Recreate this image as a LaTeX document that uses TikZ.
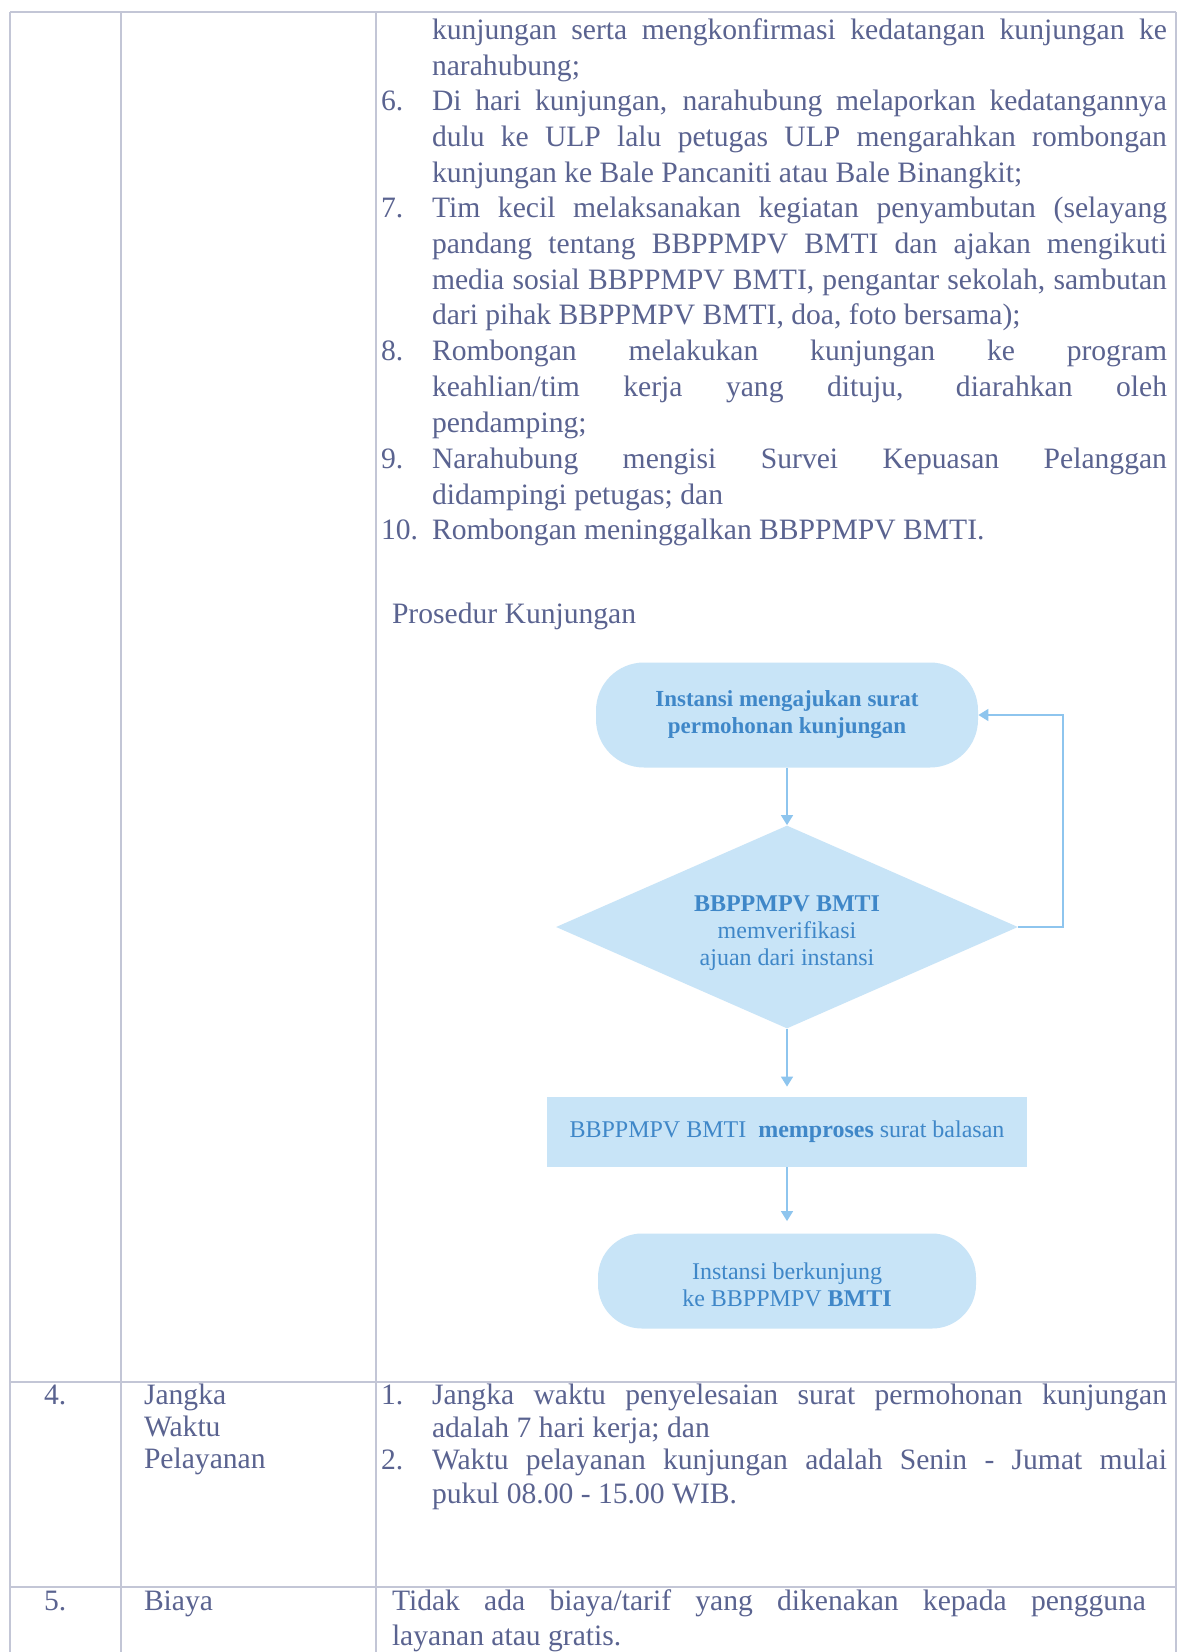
\documentclass[tikz,border=0pt]{standalone}
\usepackage{fontspec}
\setmainfont{Liberation Serif}
\usetikzlibrary{shapes.geometric,arrows.meta}
\definecolor{txt}{HTML}{5A6390}
\definecolor{rulec}{HTML}{C3C6D6}
\definecolor{fcfill}{HTML}{C8E4F7}
\definecolor{fctxt}{HTML}{3F87C8}
\definecolor{fcline}{HTML}{8EC5EE}
\newcommand{\jline}[1]{\makebox[367.5pt][s]{#1}}
\newcommand{\jlinewide}[1]{\makebox[377pt][s]{#1}}
\begin{document}
\begin{tikzpicture}[x=0.5pt,y=-0.5pt,
  body/.style={anchor=base west, inner sep=0pt, outer sep=0pt, text=txt,
    font=\fontsize{14.8pt}{17.8pt}\selectfont},
  tblline/.style={draw=rulec, line width=0.6pt},
  fcbase/.style={fill=fcfill, draw=none, text=fctxt, align=center, inner sep=0pt,
    font=\fontsize{12pt}{13.5pt}\selectfont},
  term/.style={fcbase, rectangle, rounded corners=24pt},
  decide/.style={fcbase, diamond, shape aspect=2.27},
  procbox/.style={fcbase, rectangle},
  flow/.style={draw=fcline, line width=0.8pt, -{Triangle[width=6pt,length=5pt]}}]
\useasboundingbox[fill=white] (0,0) rectangle (1187,1652);
% table grid
\draw[tblline] (10,12) -- (1176,12);
\draw[tblline] (10,1382) -- (1176,1382);
\draw[tblline] (10,1587) -- (1176,1587);
\draw[tblline] (10,12) -- (10,1652);
\draw[tblline] (121,12) -- (121,1652);
\draw[tblline] (376,12) -- (376,1652);
\draw[tblline] (1176,12) -- (1176,1652);
% row 3 text
\node[body] (l0) at (432,40) {\jline{kunjungan serta mengkonfirmasi kedatangan kunjungan ke}};
\node[body] (l1) at (432,76) {narahubung;};
\node[body] (n6) at (381,111) {6.};
\node[body] (l2) at (432,111) {\jline{Di hari kunjungan, narahubung melaporkan kedatangannya}};
\node[body] (l3) at (432,147) {\jline{dulu ke ULP lalu petugas ULP mengarahkan rombongan}};
\node[body] (l4) at (432,183) {kunjungan ke Bale Pancaniti atau Bale Binangkit;};
\node[body] (n7) at (381,218) {7.};
\node[body] (l5) at (432,218) {\jline{Tim kecil melaksanakan kegiatan penyambutan (selayang}};
\node[body] (l6) at (432,254) {\jline{pandang tentang BBPPMPV BMTI dan ajakan mengikuti}};
\node[body] (l7) at (432,290) {\jline{media sosial BBPPMPV BMTI, pengantar sekolah, sambutan}};
\node[body] (l8) at (432,325) {dari pihak BBPPMPV BMTI, doa, foto bersama);};
\node[body] (n8) at (381,361) {8.};
\node[body] (l9) at (432,361) {\jline{Rombongan melakukan kunjungan ke program}};
\node[body] (l10) at (432,397) {\jline{keahlian/tim kerja yang dituju, diarahkan oleh}};
\node[body] (l11) at (432,432) {pendamping;};
\node[body] (n9) at (381,468) {9.};
\node[body] (l12) at (432,468) {\jline{Narahubung mengisi Survei Kepuasan Pelanggan}};
\node[body] (l13) at (432,504) {didampingi petugas; dan};
\node[body] (n10) at (381,539) {10.};
\node[body] (l14) at (432,539) {Rombongan meninggalkan BBPPMPV BMTI.};
\node[body] (pk) at (392,623) {Prosedur Kunjungan};
% flowchart
\node[term, minimum width=191pt, minimum height=52.5pt] (s1) at (787,715)
  {\bfseries\fontsize{11.5pt}{13.5pt}\selectfont Instansi mengajukan surat\\ \bfseries\fontsize{11.5pt}{13.5pt}\selectfont permohonan kunjungan};
\node[decide, minimum width=231pt, minimum height=101.5pt] (d) at (787,927)
  {\rule{0pt}{14pt}\textbf{BBPPMPV BMTI}\\ memverifikasi\\ ajuan dari instansi};
\node[procbox, minimum width=240pt, minimum height=35pt] (r) at (787,1132)
  {BBPPMPV BMTI\ \ \textbf{memproses} surat balasan};
\node[term, minimum width=189pt, minimum height=47.5pt, rounded corners=22pt] (s2) at (787,1281)
  {\rule{0pt}{12pt}Instansi berkunjung\\ ke BBPPMPV \textbf{BMTI}};
\coordinate (fb) at (1063,927);
\draw[flow] (s1.south) -- (d.north);
\draw[flow, shorten >=5pt] (d.south) -- (r.north);
\draw[flow, shorten >=6pt] (r.south) -- (s2.north);
\draw[flow] (d.east) -- (fb) |- (s1.east);
% row 4
\node[body] (c4) at (44,1404) {4.};
\node[body] (k4a) at (144,1404) {Jangka};
\node[body] (k4b) at (144,1436) {Waktu};
\node[body] (k4c) at (144,1468) {Pelayanan};
\node[body] (m1) at (381,1404) {1.};
\node[body] (r4a) at (432,1404) {\jline{Jangka waktu penyelesaian surat permohonan kunjungan}};
\node[body] (r4b) at (432,1437) {adalah 7 hari kerja; dan};
\node[body] (m2) at (381,1469) {2.};
\node[body] (r4c) at (432,1469) {\jline{Waktu pelayanan kunjungan adalah Senin - Jumat mulai}};
\node[body] (r4d) at (432,1503) {pukul 08.00 - 15.00 WIB.};
% row 5
\node[body] (c5) at (44,1610) {5.};
\node[body] (k5) at (144,1610) {Biaya};
\node[body] (r5a) at (392,1610) {\jlinewide{Tidak ada biaya/tarif yang dikenakan kepada pengguna}};
\node[body] (r5b) at (392,1645) {layanan atau gratis.};
\end{tikzpicture}
\end{document}
